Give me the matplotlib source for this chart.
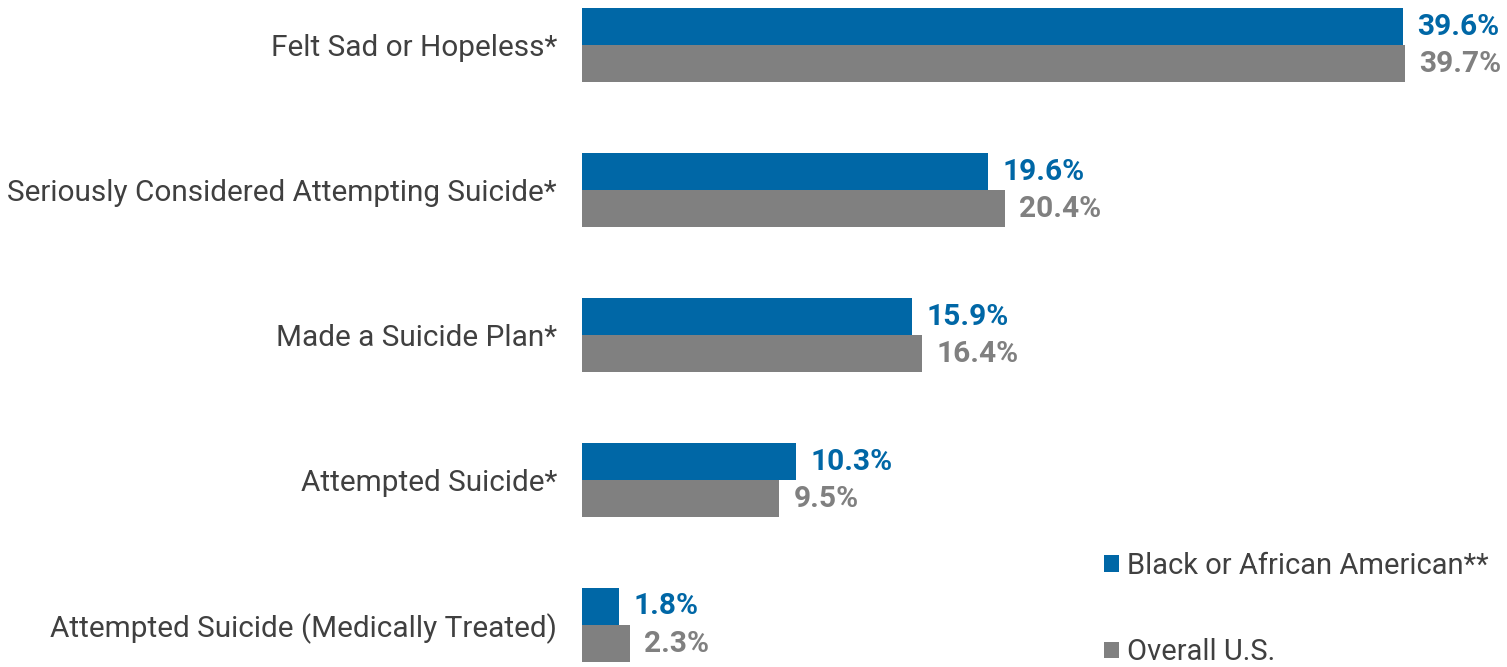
import numpy as np
import matplotlib.pyplot as plt

plt.rcParams['font.family'] = ['Roboto', 'DejaVu Sans']

categories = ["Felt Sad or Hopeless*",
              "Seriously Considered Attempting Suicide*",
              "Made a Suicide Plan*",
              "Attempted Suicide*",
              "Attempted Suicide (Medically Treated)"]
black_aa = [39.6, 19.6, 15.9, 10.3, 1.8]
overall_us = [39.7, 20.4, 16.4, 9.5, 2.3]
series_names = ["Black or African American**", "Overall U.S."]

blue = "#0067a6"
gray = "#808080"
text_col = "#404040"

W, H = 1507, 667
fig = plt.figure(figsize=(W / 100, H / 100), dpi=100)
ax = fig.add_axes([582 / W, 0, 1 - 582 / W, 1])

y = np.arange(len(categories))
h = 37 / 145
b1 = ax.barh(y - h / 2, black_aa, height=h, color=blue, label=series_names[0])
b2 = ax.barh(y + h / 2, overall_us, height=h, color=gray, label=series_names[1])

for bars, vals, c in [(b1, black_aa, blue), (b2, overall_us, gray)]:
    for rect, v in zip(bars, vals):
        ax.text(v + 0.7, rect.get_y() + rect.get_height() / 2, f"{v:.1f}%",
                va="center", ha="left", fontsize=21.5, fontweight="bold", color=c,
                clip_on=False)

ax.set_xlim(0, (W - 582) / 20.73)
ax.set_ylim((H - 45) / 145, -45 / 145)
ax.set_yticks(y)
ax.set_yticklabels(categories, fontsize=21.4, color=text_col, va="center_baseline")
ax.tick_params(axis="y", length=0, pad=18)
ax.set_xticks([])
for s in ax.spines.values():
    s.set_visible(False)

leg = ax.legend(loc="upper left", bbox_to_anchor=(1104 / W, 1 - 552 / H),
                bbox_transform=fig.transFigure, frameon=False, fontsize=21,
                handlelength=0.5, handleheight=0.5, handletextpad=0.3,
                labelspacing=2.0, borderpad=0, borderaxespad=0)
for t in leg.get_texts():
    t.set_color(text_col)

fig.savefig("out.png", dpi=100)
